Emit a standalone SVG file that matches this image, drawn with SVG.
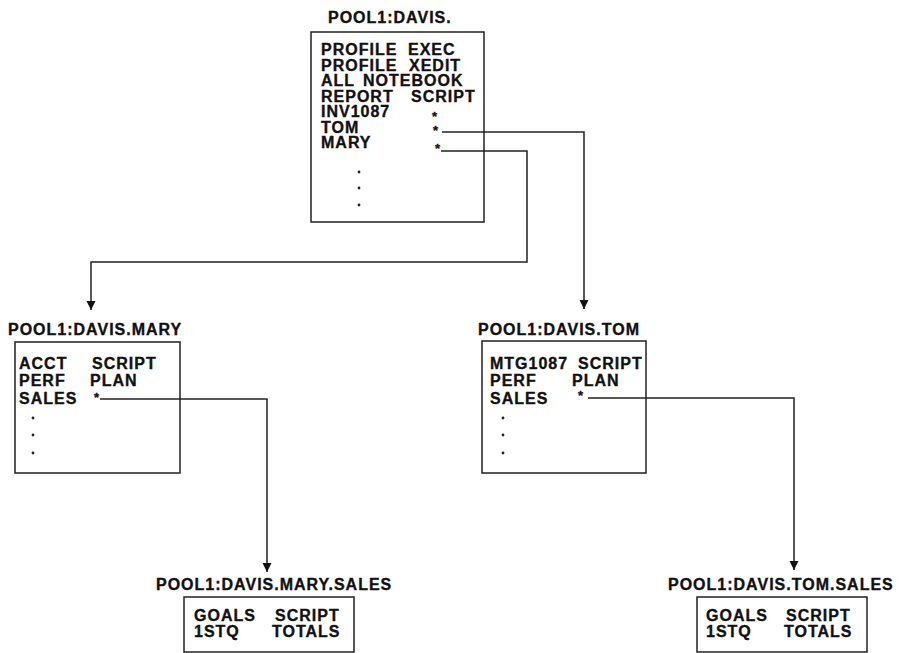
<svg xmlns="http://www.w3.org/2000/svg" width="900" height="653" viewBox="0 0 900 653">
<style>
text{font-family:"Liberation Sans",Arial,sans-serif;font-weight:bold;font-size:16px;letter-spacing:1px;fill:#111;stroke:#111;stroke-width:0.35px}
.star{font-size:13px;letter-spacing:0}
.box{fill:none;stroke:#222;stroke-width:1.5}
.con{fill:none;stroke:#222;stroke-width:1.5}
.dot{fill:#222}
</style>
<defs>
<marker id="arr" viewBox="0 0 10 10" refX="10" refY="5" markerWidth="9" markerHeight="14" markerUnits="userSpaceOnUse" orient="auto">
<path d="M0,0 L10,5 L0,10 z" fill="#111"/>
</marker>
</defs>
<rect width="900" height="653" fill="#fff"/>

<g id="connectors">
<path class="con" d="M442,132 H584 V309" marker-end="url(#arr)"/>
<path class="con" d="M441,151 H527 V262 H91 V310" marker-end="url(#arr)"/>
<path class="con" d="M100,399 H267 V572" marker-end="url(#arr)"/>
<path class="con" d="M588,398 H794 V570" marker-end="url(#arr)"/>
</g>

<g id="davis">
<text x="328" y="23">POOL1:DAVIS.</text>
<rect class="box" x="311" y="32" width="173" height="190"/>
<text x="321" y="55">PROFILE</text><text x="408" y="55">EXEC</text>
<text x="321" y="70.5">PROFILE</text><text x="409" y="70.5">XEDIT</text>
<text x="321" y="86">ALL</text><text x="363" y="86">NOTEBOOK</text>
<text x="321" y="101.5">REPORT</text><text x="411" y="101.5">SCRIPT</text>
<text x="321" y="117">INV1087</text><text class="star" x="432" y="120.5">*</text>
<text x="321" y="132.5">TOM</text><text class="star" x="433" y="135">*</text>
<text x="321" y="148">MARY</text><text class="star" x="435" y="153">*</text>
<circle class="dot" cx="359" cy="172" r="1.4"/>
<circle class="dot" cx="359" cy="188" r="1.4"/>
<circle class="dot" cx="359" cy="205" r="1.4"/>
</g>

<g id="davis-mary">
<text x="8" y="335">POOL1:DAVIS.MARY</text>
<rect class="box" x="15" y="342" width="165" height="131"/>
<text x="19" y="369">ACCT</text><text x="92" y="369">SCRIPT</text>
<text x="19" y="386">PERF</text><text x="90" y="386">PLAN</text>
<text x="19" y="404">SALES</text><text class="star" x="94" y="402">*</text>
<circle class="dot" cx="33" cy="418" r="1.4"/>
<circle class="dot" cx="33" cy="435" r="1.4"/>
<circle class="dot" cx="33" cy="453" r="1.4"/>
</g>

<g id="davis-tom">
<text x="478" y="335">POOL1:DAVIS.TOM</text>
<rect class="box" x="482" y="341" width="164" height="132"/>
<text x="490" y="369">MTG1087</text><text x="578" y="369">SCRIPT</text>
<text x="490" y="386">PERF</text><text x="572" y="386">PLAN</text>
<text x="490" y="404">SALES</text><text class="star" x="578" y="400">*</text>
<circle class="dot" cx="503" cy="418" r="1.4"/>
<circle class="dot" cx="503" cy="435" r="1.4"/>
<circle class="dot" cx="503" cy="453" r="1.4"/>
</g>

<g id="davis-mary-sales">
<text x="156" y="590">POOL1:DAVIS.MARY.SALES</text>
<rect class="box" x="184" y="597" width="170" height="55"/>
<text x="194" y="621">GOALS</text><text x="275" y="621">SCRIPT</text>
<text x="194" y="637">1STQ</text><text x="272" y="637">TOTALS</text>
</g>

<g id="davis-tom-sales">
<text x="668" y="590">POOL1:DAVIS.TOM.SALES</text>
<rect class="box" x="697" y="597" width="170" height="55"/>
<text x="706" y="621">GOALS</text><text x="786" y="621">SCRIPT</text>
<text x="706" y="637">1STQ</text><text x="784" y="637">TOTALS</text>
</g>
</svg>
